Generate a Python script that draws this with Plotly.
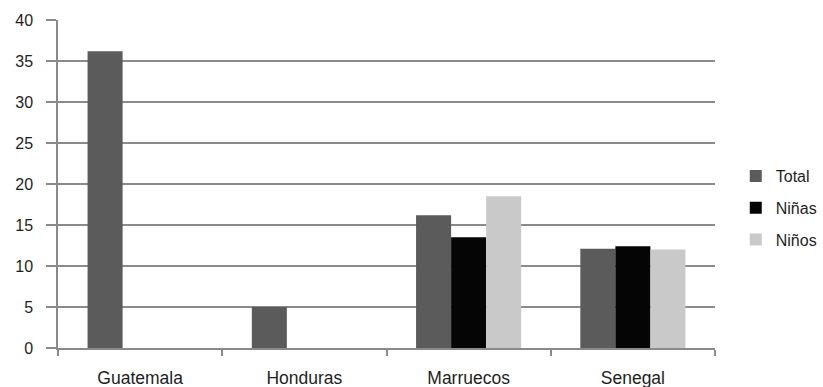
import plotly.graph_objects as go

categories = ["Guatemala", "Honduras", "Marruecos", "Senegal"]
total = [36.2, 5.0, 16.2, 12.1]
ninas = [None, None, 13.5, 12.4]
ninos = [None, None, 18.5, 12.0]
y_ticks = [0, 5, 10, 15, 20, 25, 30, 35, 40]

fig = go.Figure()
fig.add_trace(go.Bar(name="Total", x=categories, y=total, marker_color="#5b5b5b",
                     legendgroup="a", marker_line_width=0))
fig.add_trace(go.Bar(name="Niñas", x=categories, y=ninas, marker_color="#050505",
                     legendgroup="b", marker_line_width=0))
fig.add_trace(go.Bar(name="Niños", x=categories, y=ninos, marker_color="#c9c9c9",
                     legendgroup="c", marker_line_width=0))

fig.update_layout(
    width=823, height=387,
    margin=dict(l=58, r=108, t=20, b=39),
    paper_bgcolor="white", plot_bgcolor="white",
    barmode="group", bargap=0.36, bargroupgap=0,
    font=dict(family="Liberation Sans, Arial, sans-serif", size=16, color="#1e1e1e"),
    legend=dict(xref="container", yref="container", x=0.894, xanchor="left",
                y=1 - 208 / 387, yanchor="middle",
                tracegroupgap=8, font=dict(size=16), itemwidth=30,
                bgcolor="rgba(0,0,0,0)"),
    showlegend=True,
)
fig.update_yaxes(range=[0, 40], tickvals=y_ticks, showgrid=True, gridcolor="#8a8a8a",
                 gridwidth=1.5, showline=True, linecolor="#8a8a8a", linewidth=1.5,
                 ticks="outside", ticklen=10, tickcolor="#8a8a8a", tickwidth=1.5,
                 zeroline=False, tickfont=dict(size=16), automargin=False,
                 ticklabelstandoff=10)
fig.update_xaxes(showline=True, linecolor="#8a8a8a", linewidth=1.5, ticks="outside",
                 tickson="boundaries", ticklen=6, tickcolor="#8a8a8a", tickwidth=1.5,
                 showgrid=False, tickfont=dict(size=17.5), automargin=False,
                 ticklabelstandoff=13)

fig.write_html("out.html", config={"displayModeBar": False},
               post_script="document.body.style.margin='0';document.body.style.overflow='hidden';")
